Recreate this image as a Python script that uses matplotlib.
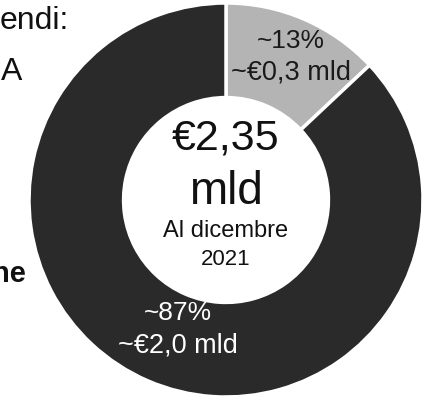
import matplotlib
matplotlib.use("Agg")
import matplotlib.pyplot as plt
import numpy as np

plt.rcParams['font.family'] = ['Liberation Sans', 'DejaVu Sans']

# Breakdown of the €2,35 bn total
shares = [13, 87]
share_labels = ["~13%", "~87%"]
amount_labels = ["~€0,3 mld", "~€2,0 mld"]
wedge_colors = ["#b4b4b4", "#2a2a2a"]
label_colors = ["#1a1a1a", "#ffffff"]
total_label = "€2,35"
total_unit = "mld"
date_label = ["Al dicembre", "2021"]
side_texts = ["endi:", "A", "ne"]

W, H = 427, 400
fig = plt.figure(figsize=(W / 100, H / 100), dpi=100)
ax = fig.add_axes([0, 0, 1, 1])

ring_width = 0.48
wedges, _ = ax.pie(shares, startangle=90, counterclock=False,
                   colors=wedge_colors, radius=1.0,
                   wedgeprops=dict(width=ring_width, edgecolor='white', linewidth=2.5))

# pixel geometry of the ring
cx, cy, R = 226, 200, 197
ax.set_xlim(-cx / R, (W - cx) / R)
ax.set_ylim(-(H - cy) / R, cy / R)
ax.set_aspect('equal')
ax.axis('off')

# labels inside each wedge, placed along the wedge's mid-angle
label_r = [0.80, 0.70]
angle_nudge = [-1.0, 3.0]
for i, w in enumerate(wedges):
    ang = np.deg2rad((w.theta1 + w.theta2) / 2 + angle_nudge[i])
    x = label_r[i] * np.cos(ang)
    y = label_r[i] * np.sin(ang)
    ax.text(x, y + 0.08, share_labels[i], ha='center', va='center',
            fontsize=19, color=label_colors[i])
    ax.text(x, y - 0.08, amount_labels[i], ha='center', va='center',
            fontsize=19.5, color=label_colors[i])

# centre text
ax.text(0, (cy - 149) / R, total_label, ha='center', va='baseline', fontsize=31, color='#111111')
ax.text(0, (cy - 204) / R, total_unit, ha='center', va='baseline', fontsize=33, color='#111111')
ax.text(0, (cy - 237) / R, date_label[0], ha='center', va='baseline', fontsize=17, color='#111111')
ax.text(0, (cy - 265) / R, date_label[1], ha='center', va='baseline', fontsize=16, color='#111111')

# text running in from the left side of the page
fig.text(69 / W, 1 - 29 / H, side_texts[0], ha='right', va='baseline', fontsize=23, color='#111111')
fig.text(1 / W, 1 - 80 / H, side_texts[1], ha='left', va='baseline', fontsize=23, color='#111111')
fig.text(26 / W, 1 - 282 / H, side_texts[2], ha='right', va='baseline', fontsize=21,
         fontweight='bold', color='#111111')

fig.savefig("out.png", dpi=100)
